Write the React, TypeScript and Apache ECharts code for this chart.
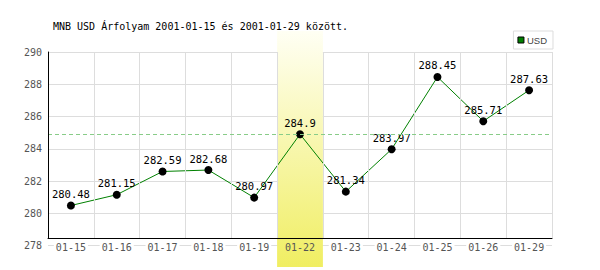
import React, { useEffect, useRef } from "react";
import * as echarts from "echarts";

const categories = ["01-15", "01-16", "01-17", "01-18", "01-19", "01-22", "01-23", "01-24", "01-25", "01-26", "01-29"];
const usdValues = [280.48, 281.15, 282.59, 282.68, 280.97, 284.9, 281.34, 283.97, 288.45, 285.71, 287.63];
const highlightCategory = "01-22";
const referenceRate = 284.9;
const yMin = 278;
const yMax = 290;
const yInterval = 2;
const axisBaseValue = 278.45;
const titleText = "MNB USD Árfolyam 2001-01-15 és 2001-01-29 között.";
const seriesName = "USD";

const MONO = "'DejaVu Sans Mono', 'Liberation Mono', monospace";

export default function App() {
  const ref = useRef<HTMLDivElement>(null);
  useEffect(() => {
    if (!ref.current) return;
    const chart = echarts.init(ref.current, null, { renderer: "svg" });
    const gridLeft = 48;
    const gridRight = 48;
    const gridTop = 52;
    const gridBottomPx = 245.5;
    const plotH = gridBottomPx - gridTop;
    const axisY = gridBottomPx - ((axisBaseValue - yMin) / (yMax - yMin)) * plotH;

    chart.setOption({
      animation: false,
      title: {
        text: titleText,
        left: 53,
        top: 21,
        padding: 0,
        textStyle: { fontFamily: MONO, fontSize: 10, fontWeight: "normal", color: "#000" },
      },
      legend: {
        data: [
          {
            name: seriesName,
            icon: "rect",
            itemStyle: { color: "#008000", borderColor: "#000", borderWidth: 1 },
          },
        ],
        right: 47,
        top: 31,
        padding: [4, 6, 4, 4],
        itemWidth: 6,
        itemHeight: 6,
        itemGap: 4,
        borderColor: "#dddddd",
        borderWidth: 1,
        textStyle: { fontFamily: "'Liberation Sans', Arial, sans-serif", fontSize: 9.5, color: "#444", padding: [0, 0, 0, -2] },
      },
      grid: [
        { left: gridLeft, right: gridRight, top: gridTop, bottom: 270 - gridBottomPx },
        { left: gridLeft, right: gridRight, top: 31, bottom: 3 },
        { left: gridLeft, right: gridRight, top: gridTop, bottom: 270 - axisY },
      ],
      xAxis: [
        {
          type: "category",
          gridIndex: 0,
          data: categories,
          boundaryGap: true,
          z: 4,
          axisLine: { show: false },
          axisTick: { show: false },
          splitLine: { show: false },
          axisLabel: {
            interval: 0,
            margin: 2,
            verticalAlign: "middle",
            formatter: (v: string) => (v === highlightCategory ? `{h|${v}}` : `{w|${v}}`),
            rich: {
              w: { backgroundColor: "#fff", padding: [1, 2], fontFamily: MONO, fontSize: 10, color: "#555" },
              h: { padding: [1, 2], fontFamily: MONO, fontSize: 10, color: "#555" },
            },
          },
        },
        {
          type: "category",
          gridIndex: 1,
          data: categories,
          boundaryGap: true,
          show: false,
        },
        {
          type: "category",
          gridIndex: 2,
          data: categories,
          boundaryGap: true,
          z: 5,
          axisLine: { show: true, lineStyle: { color: "#000", width: 1 } },
          axisTick: { show: false },
          axisLabel: { show: false },
          splitLine: { show: true, interval: 0, lineStyle: { color: "#dddddd", width: 1 } },
        },
      ],
      yAxis: [
        {
          type: "value",
          gridIndex: 0,
          min: yMin,
          max: yMax,
          interval: yInterval,
          z: 0,
          axisLine: { show: false },
          axisTick: { show: false },
          axisLabel: { margin: 6, fontFamily: MONO, fontSize: 10, color: "#555" },
          splitLine: { show: true, lineStyle: { color: "#dddddd", width: 1 } },
        },
        { type: "value", gridIndex: 1, min: 0, max: 1, show: false },
        {
          type: "value",
          gridIndex: 2,
          min: 0,
          max: 1,
          z: 5,
          axisLine: { show: true, lineStyle: { color: "#000", width: 1 } },
          axisTick: { show: false },
          axisLabel: { show: false },
          splitLine: { show: false },
        },
      ],
      series: [
        {
          type: "bar",
          name: "highlight",
          xAxisIndex: 1,
          yAxisIndex: 1,
          z: 2,
          silent: true,
          barWidth: "100%",
          barCategoryGap: 0,
          data: categories.map((c) => (c === highlightCategory ? 1 : "-")),
          itemStyle: {
            color: new echarts.graphic.LinearGradient(0, 0, 0, 1, [
              { offset: 0, color: "#fffff4" },
              { offset: 1, color: "#f0ee62" },
            ]),
          },
        },
        {
          type: "line",
          name: "reference",
          xAxisIndex: 0,
          yAxisIndex: 0,
          z: 1,
          data: [],
          markLine: {
            silent: true,
            symbol: "none",
            label: { show: false },
            lineStyle: { color: "#88cc88", type: [4, 3], width: 1 },
            data: [{ yAxis: referenceRate }],
          },
        },
        {
          type: "line",
          name: seriesName,
          xAxisIndex: 0,
          yAxisIndex: 0,
          z: 3,
          data: usdValues,
          symbol: "circle",
          symbolSize: 8,
          lineStyle: { color: "#008000", width: 1 },
          itemStyle: { color: "#000" },
          label: {
            show: true,
            position: "top",
            distance: 2,
            fontFamily: MONO,
            fontSize: 10.5,
            color: "#000",
          },
        },
      ],
    });
    return () => chart.dispose();
  }, []);
  return <div ref={ref} style={{ position: "fixed", left: 0, top: 0, width: 600, height: 270, background: "#fff" }} />;
}
